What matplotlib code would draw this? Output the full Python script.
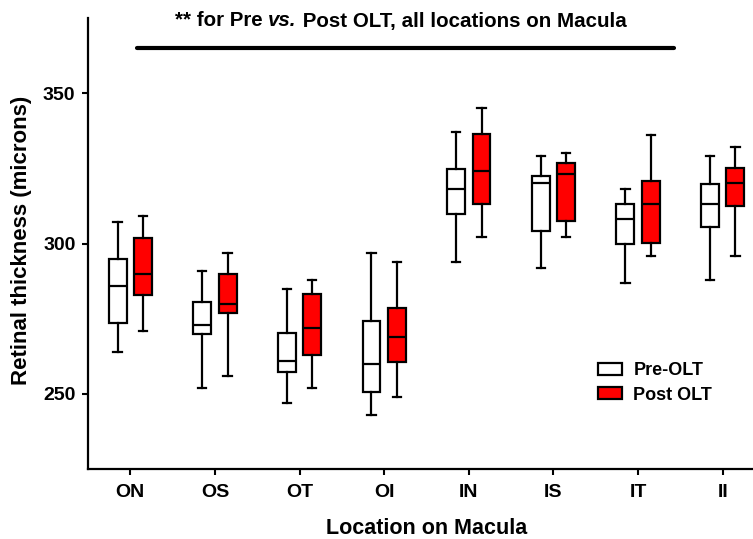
import matplotlib
matplotlib.use("Agg")
import matplotlib.pyplot as plt
from matplotlib.patches import Patch

plt.rcParams['font.family'] = ['Liberation Sans', 'DejaVu Sans']
plt.rcParams['font.weight'] = 'bold'

locations = ["ON", "OS", "OT", "OI", "IN", "IS", "IT", "II"]
# [whislo, q1, median, q3, whishi]
pre_olt = [
    [264, 273.7, 286, 294.8, 307],
    [252, 269.8, 273, 280.5, 291],
    [247, 257.2, 261, 270.1, 285],
    [243, 250.5, 260, 274.2, 297],
    [294, 309.8, 318, 324.8, 337],
    [292, 304.3, 320, 322.3, 329],
    [287, 299.8, 308, 313.2, 318],
    [288, 305.4, 313, 319.8, 329],
]
post_olt = [
    [271, 282.9, 290, 301.7, 309],
    [256, 276.8, 280, 289.7, 297],
    [252, 262.8, 272, 283.3, 288],
    [249, 260.7, 269, 278.7, 294],
    [302, 313.3, 324, 336.4, 345],
    [302, 307.4, 323, 326.8, 330],
    [296, 300.2, 313, 320.9, 336],
    [296, 312.4, 320, 325.2, 332],
]
series_labels = ["Pre-OLT", "Post OLT"]
title_parts = ["** for Pre ", "vs.", " Post OLT, all locations on Macula"]

W, H = 753, 539
fig = plt.figure(figsize=(W / 100, H / 100), dpi=100)
ax_left, ax_right, ax_top, ax_bot = 88, 765, 18, 469
ax = fig.add_axes([ax_left / W, 1 - ax_bot / H, (ax_right - ax_left) / W, (ax_bot - ax_top) / H])

def stats(vals):
    lo, q1, med, q3, hi = vals
    return dict(whislo=lo, q1=q1, med=med, q3=q3, whishi=hi, fliers=[])

offset = 0.15
width = 0.21
for i, (pre, post) in enumerate(zip(pre_olt, post_olt)):
    for vals, dx, fc in ((pre, -offset, "white"), (post, offset, "#ff0000")):
        ax.bxp([stats(vals)], positions=[i + dx], widths=width, patch_artist=True,
               showfliers=False, capwidths=0.1,
               boxprops=dict(facecolor=fc, edgecolor="black", linewidth=1.6),
               medianprops=dict(color="black", linewidth=1.6),
               whiskerprops=dict(color="black", linewidth=1.6),
               capprops=dict(color="black", linewidth=1.6),
               manage_ticks=False)

ax.set_xlim(-0.5, 7.5)
ax.set_ylim(225, 375)
ax.set_xticks(range(len(locations)))
ax.set_xticklabels(locations, fontsize=14, fontweight='bold')
ax.set_yticks([250, 300, 350])
ax.set_yticklabels(["250", "300", "350"], fontsize=14, fontweight='bold')
ax.tick_params(axis='x', direction='out', length=4, width=1.5, pad=7)
ax.tick_params(axis='y', direction='out', length=4, width=1.5, pad=5)
for s in ("top", "right"):
    ax.spines[s].set_visible(False)
for s in ("left", "bottom"):
    ax.spines[s].set_linewidth(1.6)

ax_w = ax_right - ax_left
ax_h = ax_bot - ax_top
ax.set_ylabel("Retinal thickness (microns)", fontsize=16, fontweight='bold')
ax.yaxis.set_label_coords((22 - ax_left) / ax_w, (ax_bot - 240) / ax_h)
ax.yaxis.label.set_va('center')
ax.set_xlabel("Location on Macula", fontsize=15.5, fontweight='bold')
ax.xaxis.set_label_coords((427 - ax_left) / ax_w, (ax_bot - 529) / ax_h)
ax.xaxis.label.set_va('center')

# significance bar
ax.plot([0.08, 6.42], [365, 365], color="black", linewidth=3, solid_capstyle='round', clip_on=False)
t1 = fig.text(175 / W, 1 - 21 / H, title_parts[0], ha='left', va='center', fontsize=14.8, fontweight='bold')
a2 = ax.annotate(title_parts[1], xy=(1, 0), xycoords=t1, va='bottom', ha='left',
                 fontsize=14.8, fontweight='bold', style='italic', annotation_clip=False)
a3 = ax.annotate(title_parts[2], xy=(1, 0), xycoords=a2, va='bottom', ha='left',
                 fontsize=14.8, fontweight='bold', annotation_clip=False)

handles = [Patch(facecolor="white", edgecolor="black", linewidth=1.6),
           Patch(facecolor="#ff0000", edgecolor="black", linewidth=1.6)]
leg = ax.legend(handles, series_labels, loc='upper left', bbox_to_anchor=(584 / W, 1 - 348 / H),
                bbox_transform=fig.transFigure, frameon=False, prop=dict(size=13, weight='bold'),
                handlelength=1.28, handleheight=0.67, labelspacing=0.4, handletextpad=0.65,
                borderpad=0.3)

fig.savefig("out.png", dpi=100)
